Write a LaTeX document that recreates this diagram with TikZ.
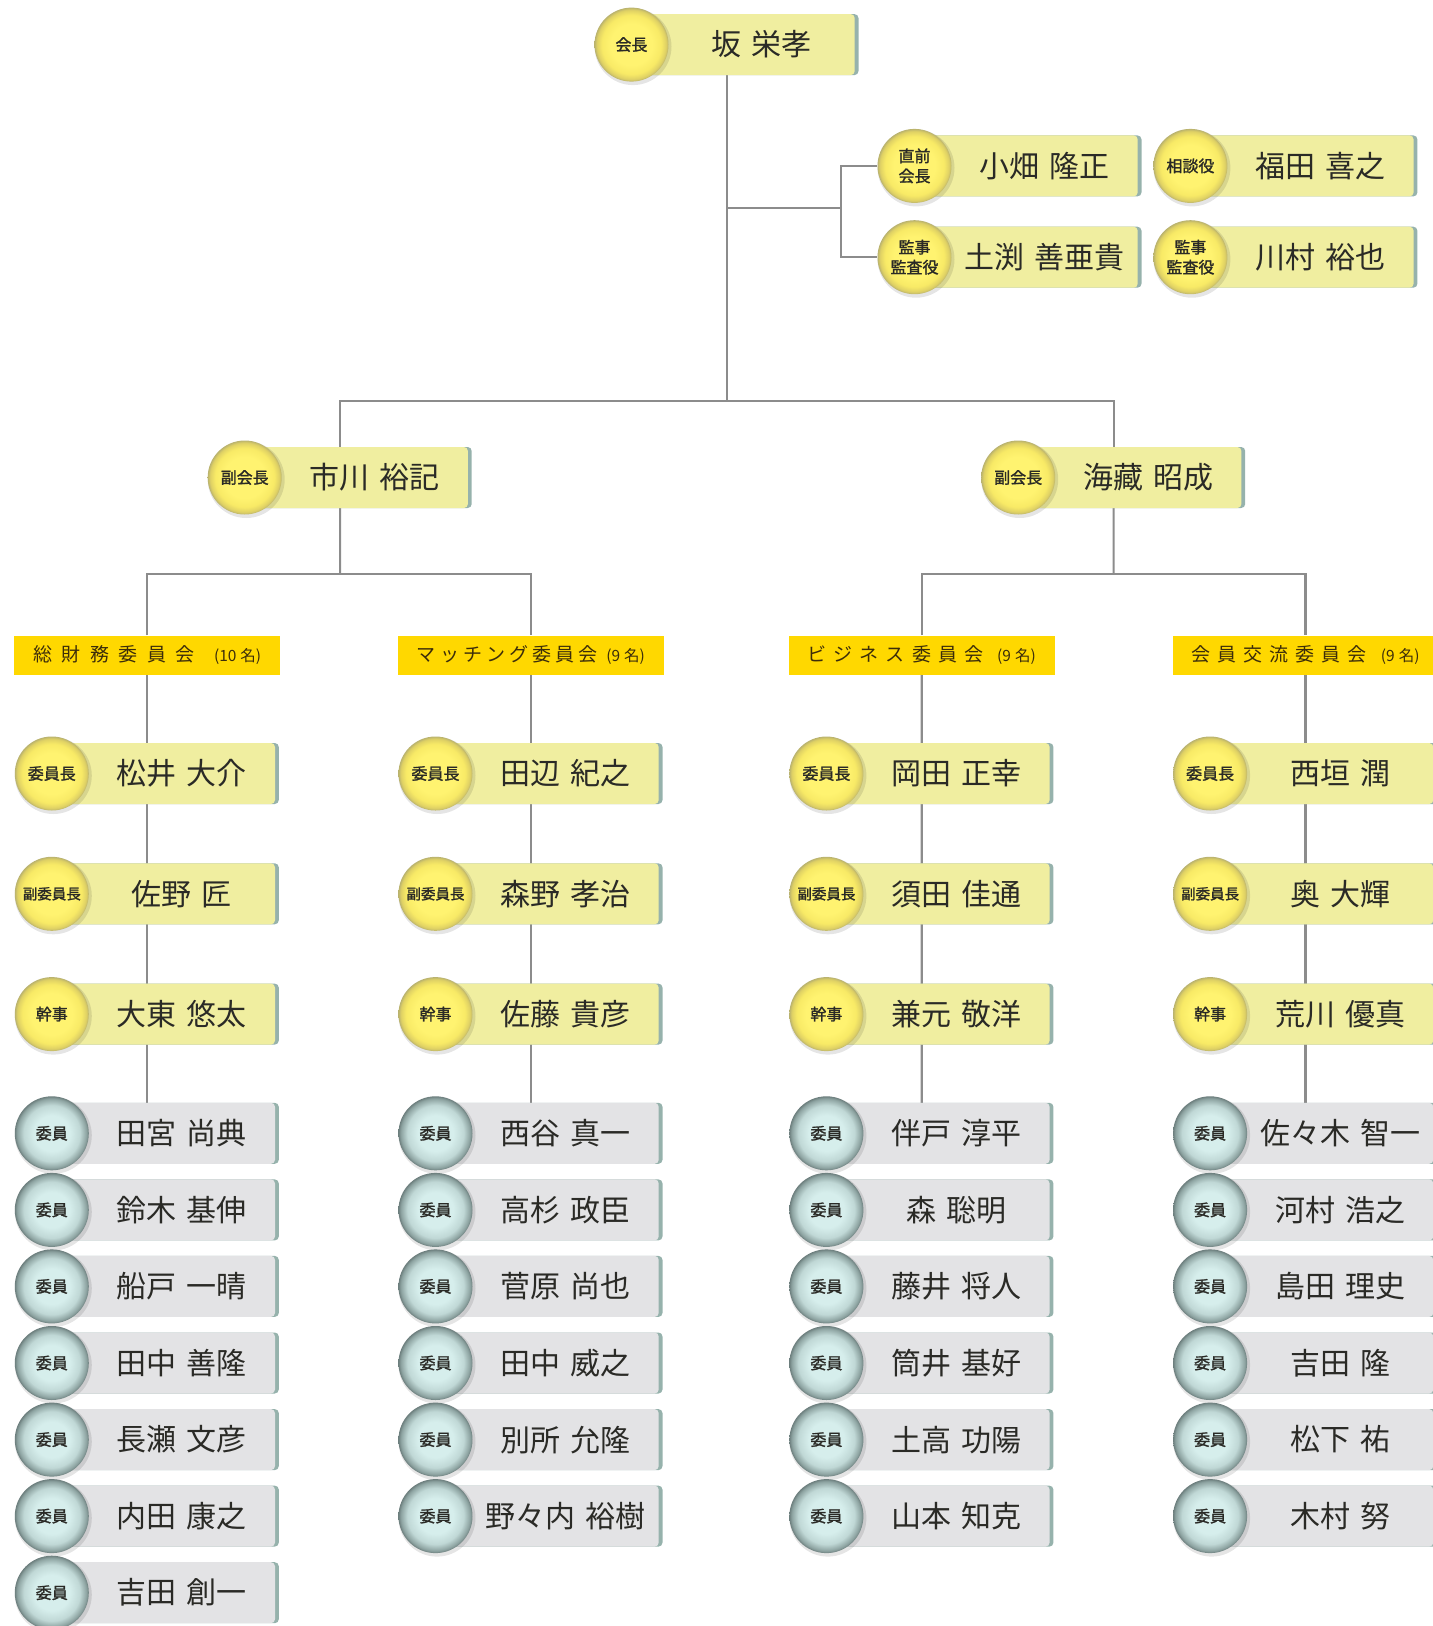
\documentclass[tikz,border=0pt]{standalone}
\usepackage{fontspec}
\newfontfamily\jp{Noto Sans CJK JP}
\newfontfamily\jpb[FakeBold=1.5]{Noto Sans CJK JP}
\usetikzlibrary{backgrounds}
\definecolor{nameY}{RGB}{240,238,160}
\definecolor{nameG}{RGB}{227,227,229}
\definecolor{edgeC}{RGB}{150,178,172}
\definecolor{hdrC}{RGB}{255,216,0}
\definecolor{lineC}{RGB}{140,140,140}
\definecolor{txtC}{RGB}{42,42,38}
\definecolor{hdrT}{RGB}{60,45,10}
\definecolor{yc}{RGB}{255,243,112}
\definecolor{ym}{RGB}{248,234,102}
\definecolor{ye}{RGB}{222,208,100}
\definecolor{yr}{RGB}{185,178,110}
\definecolor{tc}{RGB}{214,238,236}
\definecolor{tm}{RGB}{192,216,214}
\definecolor{te}{RGB}{140,162,160}
\definecolor{tr}{RGB}{108,126,125}
\pgfdeclareradialshading{yball}{\pgfpoint{0bp}{0bp}}{color(0bp)=(yc);color(14bp)=(yc);color(20bp)=(ym);color(23.5bp)=(ye);color(25bp)=(yr);color(50bp)=(yr)}
\pgfdeclareradialshading{tball}{\pgfpoint{0bp}{0bp}}{color(0bp)=(tc);color(12bp)=(tc);color(19bp)=(tm);color(23.5bp)=(te);color(25bp)=(tr);color(50bp)=(tr)}
\tikzset{
  conn/.style={draw=lineC, line width=2.2pt},
  namebox/.style={rectangle, rounded corners=4pt, minimum width=223pt, minimum height=61pt, inner sep=0pt, anchor=west, draw=none},
  boxY/.style={fill=nameY},
  boxG/.style={fill=nameG},
  pball/.style={circle, minimum size=74pt, inner sep=0pt, align=center, text=txtC, font=\jpb\fontsize{16}{20}\selectfont},
  pballY/.style={shade, shading=yball},
  pballG/.style={shade, shading=tball},
  nametext/.style={inner sep=0pt, text=txtC, font=\jp\fontsize{30}{32}\selectfont},
  hdrbox/.style={rectangle, fill=hdrC, minimum width=265.5pt, minimum height=39.4pt, inner sep=0pt, text=hdrT, font=\jp\fontsize{19}{21}\selectfont}
}
\newcommand\nm[2]{#1\hspace{0.33em}#2}
\newcommand\hdrtxt[2]{\makebox[228pt]{#1\hfill{\fontsize{15.5}{15.5}\selectfont(#2\hspace{4pt}名)}}}
\newcommand\pers[6]{%
  \fill[edgeC,rounded corners=4pt] (#2,#3-30.5) rectangle ++(227,61);
  \node[namebox,box#4] (#1) at (#2,#3) {};
  \fill[black,opacity=.10] (#2+1.5,#3+2) circle[radius=38.5];
  \node[pball,pball#4] (#1-c) at (#2,#3) {#5};
  \node[nametext] (#1-t) at (#2+130,#3) {#6};
  \coordinate (#1-j) at (#2+95.4,#3);
}
\newcommand\fuku{{\fontsize{14.5}{16}\selectfont 副委員長}}
\begin{document}
\begin{tikzpicture}[x=1pt,y=-1pt]
\useasboundingbox (0,0) rectangle (1433,1626);

% top
\pers{P}{631.5}{44.6}{Y}{会長}{\nm{坂}{栄孝}}
\pers{A1}{914.5}{165.9}{Y}{直前\\会長}{\nm{小畑}{隆正}}
\pers{A2}{1190.4}{165.9}{Y}{相談役}{\nm{福田}{喜之}}
\pers{A3}{914.5}{257.2}{Y}{監事\\監査役}{\nm{土渕}{善亜貴}}
\pers{A4}{1190.4}{257.2}{Y}{監事\\監査役}{\nm{川村}{裕也}}
\pers{V1}{244.7}{477.5}{Y}{副会長}{\nm{市川}{裕記}}
\pers{V2}{1018.2}{477.5}{Y}{副会長}{\nm{海藏}{昭成}}

% headers
\node[hdrbox] (H1) at (147.2,655.3) {\hdrtxt{総\hfill 財\hfill 務\hfill 委\hfill 員\hfill 会\hfill}{10}};
\node[hdrbox] (H2) at (530.9,655.3) {\hdrtxt{マ\hfill ッ\hfill チ\hfill ン\hfill グ\hfill 委\hfill 員\hfill 会\hfill}{9}};
\node[hdrbox] (H3) at (921.8,655.3) {\hdrtxt{ビ\hfill ジ\hfill ネ\hfill ス\hfill 委\hfill 員\hfill 会\hfill}{9}};
\node[hdrbox] (H4) at (1305.5,655.3) {\hdrtxt{会\hfill 員\hfill 交\hfill 流\hfill 委\hfill 員\hfill 会\hfill}{9}};

% column 1
\pers{a1}{51.8}{773.5}{Y}{委員長}{\nm{松井}{大介}}
\pers{a2}{51.8}{893.8}{Y}{\fuku}{\nm{佐野}{匠}}
\pers{a3}{51.8}{1014.1}{Y}{幹事}{\nm{大東}{悠太}}
\pers{a4}{51.8}{1133.3}{G}{委員}{\nm{田宮}{尚典}}
\pers{a5}{51.8}{1209.9}{G}{委員}{\nm{鈴木}{基伸}}
\pers{a6}{51.8}{1286.4}{G}{委員}{\nm{船戸}{一晴}}
\pers{a7}{51.8}{1363.0}{G}{委員}{\nm{田中}{善隆}}
\pers{a8}{51.8}{1439.6}{G}{委員}{\nm{長瀬}{文彦}}
\pers{a9}{51.8}{1516.1}{G}{委員}{\nm{内田}{康之}}
\pers{a10}{51.8}{1592.7}{G}{委員}{\nm{吉田}{創一}}

% column 2
\pers{b1}{435.5}{773.5}{Y}{委員長}{\nm{田辺}{紀之}}
\pers{b2}{435.5}{893.8}{Y}{\fuku}{\nm{森野}{孝治}}
\pers{b3}{435.5}{1014.1}{Y}{幹事}{\nm{佐藤}{貴彦}}
\pers{b4}{435.5}{1133.3}{G}{委員}{\nm{西谷}{真一}}
\pers{b5}{435.5}{1209.9}{G}{委員}{\nm{高杉}{政臣}}
\pers{b6}{435.5}{1286.4}{G}{委員}{\nm{菅原}{尚也}}
\pers{b7}{435.5}{1363.0}{G}{委員}{\nm{田中}{威之}}
\pers{b8}{435.5}{1439.6}{G}{委員}{\nm{別所}{允隆}}
\pers{b9}{435.5}{1516.1}{G}{委員}{\nm{野々内}{裕樹}}

% column 3
\pers{c1}{826.4}{773.5}{Y}{委員長}{\nm{岡田}{正幸}}
\pers{c2}{826.4}{893.8}{Y}{\fuku}{\nm{須田}{佳通}}
\pers{c3}{826.4}{1014.1}{Y}{幹事}{\nm{兼元}{敬洋}}
\pers{c4}{826.4}{1133.3}{G}{委員}{\nm{伴戸}{淳平}}
\pers{c5}{826.4}{1209.9}{G}{委員}{\nm{森}{聡明}}
\pers{c6}{826.4}{1286.4}{G}{委員}{\nm{藤井}{将人}}
\pers{c7}{826.4}{1363.0}{G}{委員}{\nm{筒井}{基好}}
\pers{c8}{826.4}{1439.6}{G}{委員}{\nm{土高}{功陽}}
\pers{c9}{826.4}{1516.1}{G}{委員}{\nm{山本}{知克}}

% column 4
\pers{d1}{1210.1}{773.5}{Y}{委員長}{\nm{西垣}{潤}}
\pers{d2}{1210.1}{893.8}{Y}{\fuku}{\nm{奥}{大輝}}
\pers{d3}{1210.1}{1014.1}{Y}{幹事}{\nm{荒川}{優真}}
\pers{d4}{1210.1}{1133.3}{G}{委員}{\nm{佐々木}{智一}}
\pers{d5}{1210.1}{1209.9}{G}{委員}{\nm{河村}{浩之}}
\pers{d6}{1210.1}{1286.4}{G}{委員}{\nm{島田}{理史}}
\pers{d7}{1210.1}{1363.0}{G}{委員}{\nm{吉田}{隆}}
\pers{d8}{1210.1}{1439.6}{G}{委員}{\nm{松下}{祐}}
\pers{d9}{1210.1}{1516.1}{G}{委員}{\nm{木村}{努}}

% connectors
\coordinate (t) at (726.9,401);
\coordinate (b) at (841,208);
\coordinate (s1) at (340.1,574);
\coordinate (s2) at (1113.6,574);
\begin{scope}[on background layer]
  \draw[conn] (P-j) -- (t);
  \draw[conn] (P-j |- b) -- (b);
  \draw[conn] (A1-c) -| (b) |- (A3-c);
  \draw[conn] (V1-j) |- (t) -| (V2-j);
  \draw[conn] (V1-j) -- (s1);
  \draw[conn] (V2-j) -- (s2);
  \draw[conn] (H1) |- (s1) -| (H2);
  \draw[conn] (H3) |- (s2) -| (H4);
  \draw[conn] (H1) -- (a4-j);
  \draw[conn] (H2) -- (b4-j);
  \draw[conn] (H3) -- (c4-j);
  \draw[conn] (H4) -- (d4-j);
\end{scope}
\end{tikzpicture}
\end{document}
